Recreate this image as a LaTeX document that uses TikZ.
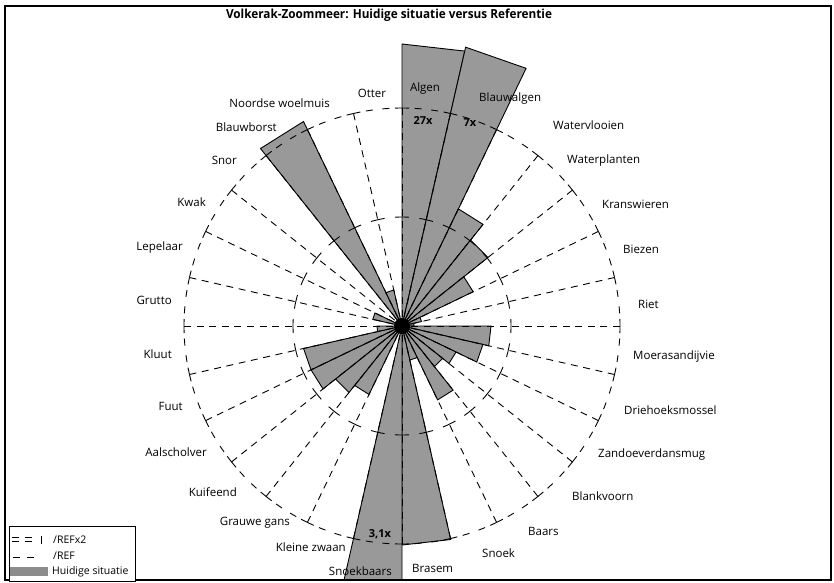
\documentclass[tikz,border=0pt]{standalone}
\usepackage{fontspec}
\setmainfont{Open Sans}
\usepackage{graphicx}
\begin{document}
\begin{tikzpicture}[x=1pt,y=-1pt,
  bar/.style={draw=black,line width=0.9pt,fill=black!40},
  refline/.style={draw=black,line width=0.9pt,dash pattern=on 7pt off 5.6pt},
  lab/.style={font=\fontsize{11.5}{13}\selectfont,inner sep=0pt},
  ovl/.style={font=\bfseries\fontsize{11}{13}\selectfont,inner sep=0pt},
  legtxt/.style={font=\fontsize{10.5}{12}\selectfont,inner sep=0pt,anchor=west},
  legline/.style={draw=black,line width=0.8pt}]
\useasboundingbox (0,0) rectangle (834,582);
\coordinate (c) at (402,326);
% bars (current situation)
\begin{scope}
  \clip (6,6) rectangle (831,580);
  \foreach \k/\r in {0/282,1/286,2/130,3/110,4/79,5/20,6/12,7/89,8/83,9/60,10/52,11/82,12/35,13/219,14/330,16/76,17/85,18/101,19/101,20/25,22/30,25/227,26/37}{
    \pgfmathsetmacro\a{\k*360/28-90}
    \pgfmathsetmacro\b{(\k+1)*360/28-90}
    \draw[bar,shift={(c)}] (0,0) -- (\a:\r) -- (\b:\r) -- cycle;
  }
\end{scope}
% reference grid
\foreach \k in {0,...,27}{
  \pgfmathsetmacro\a{\k*360/28-90}
  \pgfmathsetmacro\m{(\k+0.5)*360/28-90}
  \pgfmathsetmacro\b{(\k+1)*360/28-90}
  \draw[refline,shift={(c)}] (\a:218) -- (0,0);
  \draw[refline,shift={(c)}] (\a:218) arc[start angle=\a,end angle=\m,radius=218];
  \draw[refline,shift={(c)}] (\b:218) arc[start angle=\b,end angle=\m,radius=218];
  \draw[refline,shift={(c)}] (\a:109) arc[start angle=\a,end angle=\m,radius=109];
  \draw[refline,shift={(c)}] (\b:109) arc[start angle=\b,end angle=\m,radius=109];
}
\fill[black] (c) circle[radius=8];
% frame
\draw[line width=1.2pt] (5,6) rectangle (831,580);
% title
\node[inner sep=0pt] (title) at (389,15) {\resizebox{326pt}{\height}{\bfseries\fontsize{12.5}{14}\selectfont Volkerak-Zoommeer: Huidige situatie versus Referentie}};
% labels
\node[lab] (l0) at (425,89) {Algen};
\node[lab,anchor=west] (l1) at (479,99) {Blauwalgen};
\node[lab,anchor=west] (l2) at (553,125) {Watervlooien};
\node[lab,anchor=west] (l3) at (567,161) {Waterplanten};
\node[lab,anchor=west] (l4) at (602,204) {Kranswieren};
\node[lab,anchor=west] (l5) at (623,249) {Biezen};
\node[lab,anchor=west] (l6) at (638,304) {Riet};
\node[lab,anchor=west] (l7) at (633,357) {Moerasandijvie};
\node[lab,anchor=west] (l8) at (624,410) {Driehoeksmossel};
\node[lab,anchor=west] (l9) at (598,455) {Zandoeverdansmug};
\node[lab,anchor=west] (l10) at (572,496) {Blankvoorn};
\node[lab,anchor=west] (l11) at (528,531) {Baars};
\node[lab,anchor=west] (l12) at (482,553) {Snoek};
\node[lab,anchor=west] (l13) at (412,568) {Brasem};
\node[lab,anchor=east] (l14) at (392,571) {Snoekbaars};
\node[lab,anchor=east] (l15) at (346,547) {Kleine zwaan};
\node[lab,anchor=east] (l16) at (290,523) {Grauwe gans};
\node[lab,anchor=east] (l17) at (237,492) {Kuifeend};
\node[lab,anchor=east] (l18) at (207,452) {Aalscholver};
\node[lab,anchor=east] (l19) at (183,406) {Fuut};
\node[lab,anchor=east] (l20) at (172,354) {Kluut};
\node[lab,anchor=east] (l21) at (172,300) {Grutto};
\node[lab,anchor=east] (l22) at (183,248) {Lepelaar};
\node[lab,anchor=east] (l23) at (206,202) {Kwak};
\node[lab,anchor=east] (l24) at (237,160) {Snor};
\node[lab,anchor=east] (l25) at (277,127) {Blauwborst};
\node[lab,anchor=east] (l26) at (330,103) {Noordse woelmuis};
\node[lab] (l27) at (372,93) {Otter};
% overflow factors
\node[ovl] (o0) at (423,121) {27x};
\node[ovl] (o1) at (470,123) {7x};
\node[ovl] (o14) at (380,534) {3,1x};
% legend
\draw[line width=0.8pt,fill=white] (9,526) rectangle (135,581);
\draw[legline] (12,537.5) -- (19,537.5) (12,541.5) -- (19,541.5)
  (25,537.5) -- (32,537.5) (25,541.5) -- (32,541.5) (41,535.5) -- (41,544);
\draw[legline] (13,557) -- (20,557) (27,557) -- (34,557);
\fill[black!45] (10,567) rectangle (48,576);
\node[legtxt] (t1) at (53,540) {/REFx2};
\node[legtxt] (t2) at (53,556) {/REF};
\node[legtxt] (t3) at (52,572) {Huidige situatie};
\end{tikzpicture}
\end{document}
